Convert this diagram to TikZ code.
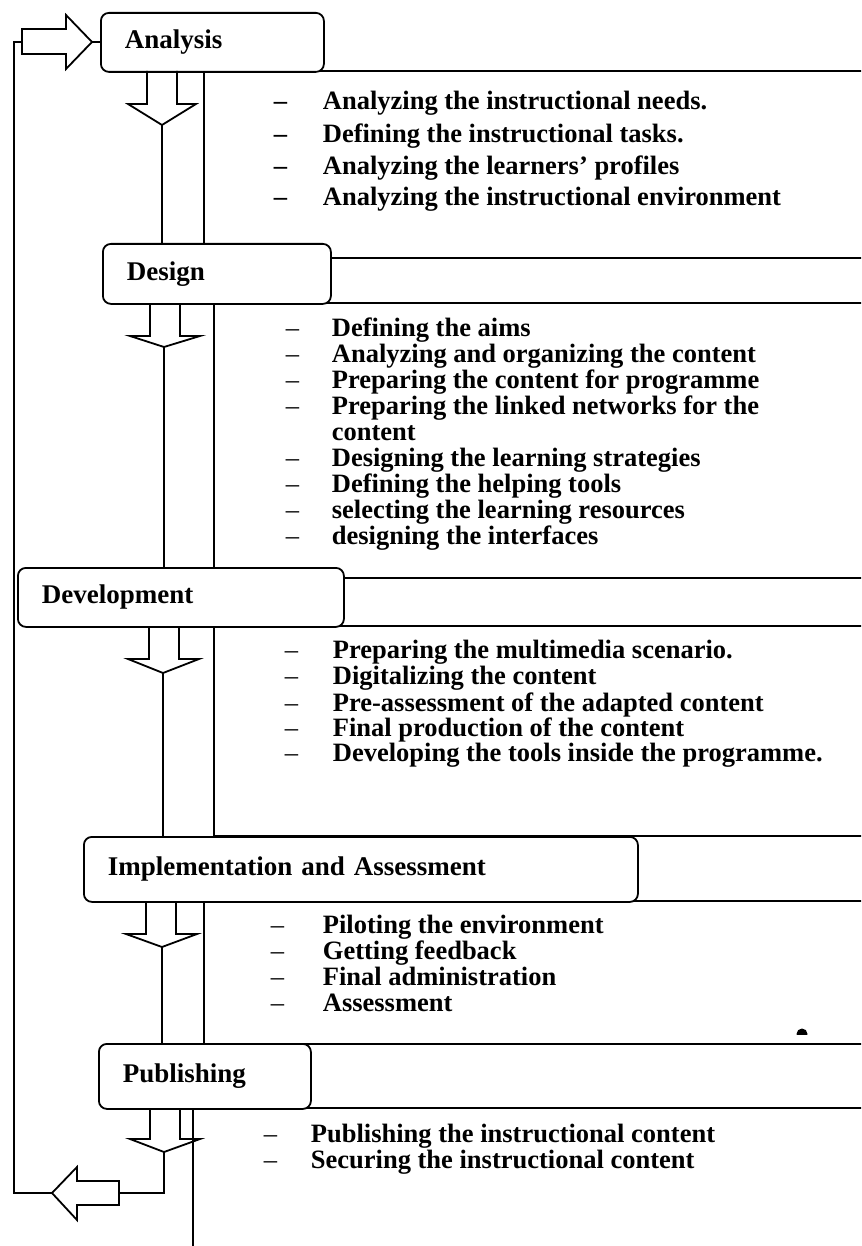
\documentclass[tikz,border=0pt]{standalone}
\usepackage{fontspec}
\setmainfont{Liberation Serif}
\usepackage{tikz}

\begin{document}
\begin{tikzpicture}[
        x=1pt,
        y=-1pt,
        line width=1.8pt,
        stage/.style={
          draw,
          fill=white,
          rounded corners=8pt,
          anchor=north west,
          inner xsep=24pt,
          inner ysep=0pt,
          align=left,
          font=\fontsize{27}{30}\selectfont\bfseries,
        },
        panel/.style={
          draw,
        },
        block/.style={
          draw,
          line join=miter,
        },
        item/.style={
          anchor=base west,
          inner sep=0pt,
          font=\fontsize{26.5}{26}\selectfont\bfseries,
        },
        dash item/.style={
          anchor=base west,
          inner sep=0pt,
          font=\fontsize{26.5}{26}\selectfont,
        },
        ]
        \clip (0,0) rectangle (861,1246);

        \draw [panel] (204,71) rectangle (880,258);
        \draw [panel] (214,303) rectangle (880,578);
        \draw [panel] (214,626) rectangle (880,836);
        \draw [panel] (204,901) rectangle (880,1044);
        \draw [panel] (193,1108) rectangle (880,1270);

        \node [stage, text width=175pt, minimum height=59pt] (ana) at (100,12) {Analysis};
        \node [stage, text width=180pt, minimum height=60pt] (des) at (102,243) {Design};
        \node [stage, text width=278pt, minimum height=59pt] (dev) at (17,567) {Development};
        \node [stage, text width=506pt, minimum height=65pt] (imp) at (83,836) {Implementation and Assessment};
        \node [stage, text width=164pt, minimum height=65pt] (pub) at (98,1043) {Publishing};

        \draw [block] (147,71) -- (147,104) -- (128,104) -- (162,125) coordinate (ana-tip)
        -- (196,104) -- (177,104) -- (177,71);
        \draw [block] (150,303) -- (150,336) -- (130,336) -- (164,347) coordinate (des-tip)
        -- (200,336) -- (180,336) -- (180,303);
        \draw [block] (149,626) -- (149,659) -- (128,659) -- (163,673) coordinate (dev-tip)
        -- (199,659) -- (179,659) -- (179,626);
        \draw [block] (146,901) -- (146,934) -- (126,934) -- (162,947) coordinate (imp-tip)
        -- (197,934) -- (176,934) -- (176,901);
        \draw [block] (150,1108) -- (150,1139) -- (130,1139) -- (164,1152) coordinate (pub-tip)
        -- (200,1139) -- (180,1139) -- (180,1108);

        \draw (ana-tip) -- (ana-tip |- des.north);
        \draw (des-tip) -- (des-tip |- dev.north);
        \draw (dev-tip) -- (dev-tip |- imp.north);
        \draw (imp-tip) -- (imp-tip |- pub.north);

        \draw [block] (22,29) coordinate (loop-in) -- (66,29) -- (66,15) -- (92,42) coordinate (loop-head)
        -- (66,69) -- (66,54) -- (22,54) -- cycle;
        \draw [block] (119,1181) -- (77,1181) -- (77,1167) -- (52,1193) coordinate (loop-out)
        -- (77,1220) -- (77,1205) -- (119,1205) -- cycle;
        \coordinate (loop-tail) at (119,1193);

        \draw (loop-head) -- (loop-head -| ana.west);
        \draw (pub-tip) |- (loop-tail);
        \draw (loop-out) -- (14,1193) |- (22,42);

        \begin{scope}
          \clip (790,1020) rectangle (815,1034);
          \fill (802,1034) circle (5.5);
        \end{scope}

        \foreach \yy/\txt in {
          110/Analyzing the instructional needs.,
          143/Defining the instructional tasks.,
          175/Analyzing the learners’ profiles,
          206/Analyzing the instructional environment} {
          \node [item] (ana-dash-\yy) at (273,\yy) {–};
          \node [item] (ana-item-\yy) at (322,\yy) {\txt};
        }

        \foreach \yy/\txt in {
          336/Defining the aims,
          362/Analyzing and organizing the content,
          388/Preparing the content for programme,
          414/Preparing the linked networks for the,
          466/Designing the learning strategies,
          492/Defining the helping tools,
          518/selecting the learning resources,
          544/designing the interfaces} {
          \node [dash item] (des-dash-\yy) at (285,\yy) {–};
          \node [item] (des-item-\yy) at (331,\yy) {\txt};
        }
        \node [item] (des-item-440) at (331,440) {content};

        \foreach \yy/\txt in {
          658/Preparing the multimedia scenario.,
          684/Digitalizing the content,
          711/Pre-assessment of the adapted content,
          736/Final production of the content,
          761/Developing the tools inside the programme.} {
          \node [dash item] (dev-dash-\yy) at (284,\yy) {–};
          \node [item] (dev-item-\yy) at (332,\yy) {\txt};
        }

        \foreach \yy/\txt in {
          933/Piloting the environment,
          959/Getting feedback,
          985/Final administration,
          1011/Assessment} {
          \node [dash item] (imp-dash-\yy) at (270,\yy) {–};
          \node [item] (imp-item-\yy) at (322,\yy) {\txt};
        }

        \foreach \yy/\txt in {
          1142/Publishing the instructional content,
          1168/Securing the instructional content} {
          \node [dash item] (pub-dash-\yy) at (263,\yy) {–};
          \node [item] (pub-item-\yy) at (310,\yy) {\txt};
        }
      \end{tikzpicture}
\end{document}
